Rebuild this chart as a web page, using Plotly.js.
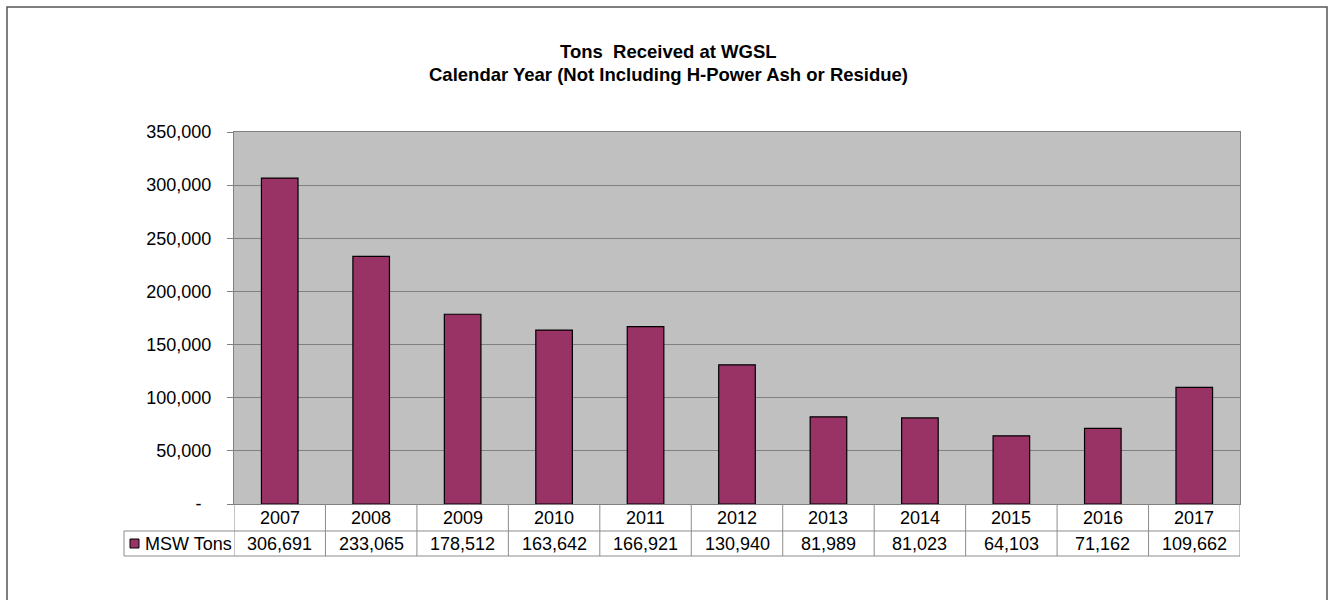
<!DOCTYPE html>
<html>
<head>
<meta charset="utf-8">
<script src="https://cdn.plot.ly/plotly-3.0.1.min.js"></script>
<style>
html,body{margin:0;padding:0;background:#fff;}
#chart{width:1331px;height:600px;}
</style>
</head>
<body>
<div id="chart"></div>
<script>
const years = ["2007","2008","2009","2010","2011","2012","2013","2014","2015","2016","2017"];
const mswTons = [306691,233065,178512,163642,166921,130940,81989,81023,64103,71162,109662];
const seriesName = "MSW Tons";
const yTickVals = [0,50000,100000,150000,200000,250000,300000,350000];
const yTickText = ["-&nbsp;&nbsp;","50,000","100,000","150,000","200,000","250,000","300,000","350,000"];

const barColor = "#993366";
const lineGray = "#8c8c8c";
const font = "Liberation Sans, Arial, sans-serif";
const fs = 18;

const L = 234, R = 1240, T = 132, B = 504, W = 1331, H = 600;
const pw = R - L, ph = B - T;
const px = x => (x - L) / pw;
const py = y => (B - y) / ph;

const fmt = v => v.toLocaleString("en-US");

const shapes = [];
const annotations = [];

// outer frame
shapes.push({type:"rect", xref:"paper", yref:"paper", x0:px(7), x1:px(1327), y0:py(610), y1:py(7),
  line:{color:"#555555", width:1.5}, fillcolor:"rgba(0,0,0,0)", layer:"below"});

// table lines
const rowTop = 504, rowMid = 531, rowBot = 556;
shapes.push({type:"line", xref:"paper", yref:"paper", x0:px(124), x1:1, y0:py(rowMid), y1:py(rowMid), line:{color:lineGray, width:1}});
shapes.push({type:"line", xref:"paper", yref:"paper", x0:px(124), x1:1, y0:py(rowBot), y1:py(rowBot), line:{color:lineGray, width:1}});
shapes.push({type:"line", xref:"paper", yref:"paper", x0:px(124), x1:px(124), y0:py(rowMid), y1:py(rowBot), line:{color:lineGray, width:1}});
for (let i = 0; i <= years.length; i++) {
  shapes.push({type:"line", xref:"x", yref:"paper", x0:i-0.5, x1:i-0.5, y0:py(rowTop), y1:py(rowBot), line:{color:lineGray, width:1}});
}
// legend key
shapes.push({type:"rect", xref:"paper", yref:"paper", x0:px(130), x1:px(139), y0:py(548), y1:py(539),
  line:{color:"#000000", width:1}, fillcolor:barColor});
annotations.push({xref:"paper", yref:"paper", x:px(143), y:py(543.5), text:seriesName, showarrow:false,
  xanchor:"left", yanchor:"middle", font:{family:font, size:fs, color:"#000"}});

years.forEach((yr, i) => {
  annotations.push({xref:"x", yref:"paper", x:i, y:py(517.5), text:yr, showarrow:false,
    xanchor:"center", yanchor:"middle", font:{family:font, size:fs, color:"#000"}});
  annotations.push({xref:"x", yref:"paper", x:i, y:py(543.5), text:fmt(mswTons[i]), showarrow:false,
    xanchor:"center", yanchor:"middle", font:{family:font, size:fs, color:"#000"}});
});

// title
annotations.push({xref:"paper", yref:"paper", x:px(668), y:py(52), text:"<b>Tons  Received at WGSL</b>", showarrow:false,
  xanchor:"center", yanchor:"middle", font:{family:font, size:18.5, color:"#000"}});
annotations.push({xref:"paper", yref:"paper", x:px(668), y:py(75), text:"<b>Calendar Year (Not Including H-Power Ash or Residue)</b>", showarrow:false,
  xanchor:"center", yanchor:"middle", font:{family:font, size:18.5, color:"#000"}});

const trace = {
  type:"bar", x:years.map((_, i) => i), y:mswTons, name:seriesName,
  marker:{color:barColor, line:{color:"#000000", width:1.2}},
  width:0.4, hoverinfo:"skip"
};

const layout = {
  width:W, height:H,
  margin:{l:L, r:W-R, t:T, b:H-B, pad:0},
  paper_bgcolor:"#ffffff", plot_bgcolor:"#c0c0c0",
  showlegend:false,
  xaxis:{range:[-0.5, years.length-0.5], showticklabels:false, ticks:"", showgrid:false, zeroline:false,
    showline:true, linecolor:"#808080", linewidth:1, mirror:true, fixedrange:true},
  yaxis:{range:[0,350000], tickvals:yTickVals, ticktext:yTickText, ticks:"outside", ticklen:6, tickcolor:"#808080",
    showgrid:true, gridcolor:"#808080", gridwidth:1, zeroline:false, showline:true, linecolor:"#808080", linewidth:1, mirror:true,
    tickfont:{family:font, size:fs, color:"#000"}, ticklabelstandoff:12, fixedrange:true},
  shapes:shapes, annotations:annotations
};

Plotly.newPlot("chart", [trace], layout, {displayModeBar:false, staticPlot:true});
</script>
</body>
</html>
